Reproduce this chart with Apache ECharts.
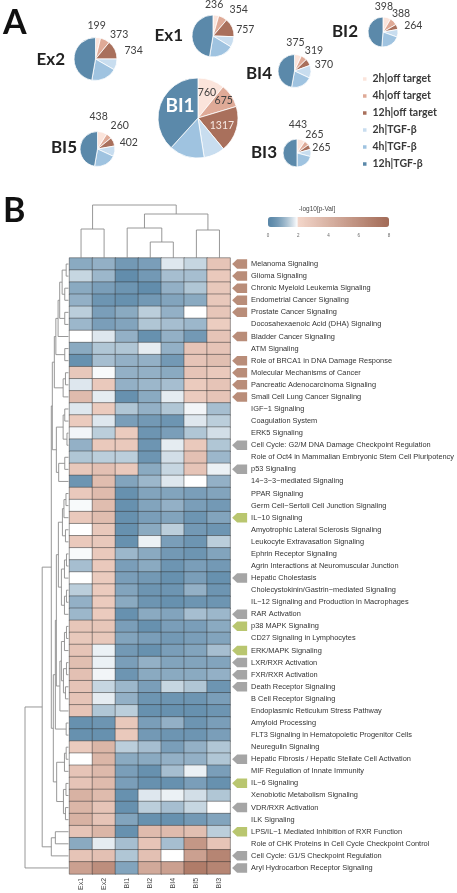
<!DOCTYPE html>
<html><head><meta charset="utf-8">
<script src="https://cdn.jsdelivr.net/npm/echarts@6/dist/echarts.min.js"></script>
<style>html,body{margin:0;padding:0;background:#fff}#c{width:457px;height:893px}</style>
</head><body><div id="c"></div>
<script>
// ---------------- DATA ----------------
const sliceNames = ['2h|off target','4h|off target','12h|off target','2h|TGF-β','4h|TGF-β','12h|TGF-β'];
const pieSamples = ['Ex2','Ex1','BI1','BI2','BI4','BI3','BI5'];
const countsEx2 = [199,373,734,435,1015,2470];
const countsEx1 = [236,354,757,430,1000,2500];
const countsBI1 = [760,675,1317,600,1000,2700];
const countsBI2 = [398,388,264,390,980,2300];
const countsBI4 = [375,319,370,685,1140,2580];
const countsBI3 = [443,265,265,390,975,2340];
const countsBI5 = [438,260,402,480,1030,2340];

const columns = ['Ex1','Ex2','BI1','BI2','BI4','BI5','BI3'];
const pathways = ['Melanoma Signaling','Glioma Signaling','Chronic Myeloid Leukemia Signaling','Endometrial Cancer Signaling','Prostate Cancer Signaling','Docosahexaenoic Acid (DHA) Signaling','Bladder Cancer Signaling','ATM Signaling','Role of BRCA1 in DNA Damage Response','Molecular Mechanisms of Cancer','Pancreatic Adenocarcinoma Signaling','Small Cell Lung Cancer Signaling','IGF\u22121 Signaling','Coagulation System','ERK5 Signaling','Cell Cycle: G2/M DNA Damage Checkpoint Regulation','Role of Oct4 in Mammalian Embryonic Stem Cell Pluripotency','p53 Signaling','14\u22123\u22123\u2212mediated Signaling','PPAR Signaling','Germ Cell\u2212Sertoli Cell Junction Signaling','IL\u221210 Signaling','Amyotrophic Lateral Sclerosis Signaling','Leukocyte Extravasation Signaling','Ephrin Receptor Signaling','Agrin Interactions at Neuromuscular Junction','Hepatic Cholestasis','Cholecystokinin/Gastrin\u2212mediated Signaling','IL\u221212 Signaling and Production in Macrophages','RAR Activation','p38 MAPK Signaling','CD27 Signaling in Lymphocytes','ERK/MAPK Signaling','LXR/RXR Activation','FXR/RXR Activation','Death Receptor Signaling','B Cell Receptor Signaling','Endoplasmic Reticulum Stress Pathway','Amyloid Processing','FLT3 Signaling in Hematopoietic Progenitor Cells','Neuregulin Signaling','Hepatic Fibrosis / Hepatic Stellate Cell Activation','MIF Regulation of Innate Immunity','IL\u22126 Signaling','Xenobiotic Metabolism Signaling','VDR/RXR Activation','ILK Signaling','LPS/IL\u22121 Mediated Inhibition of RXR Function','Role of CHK Proteins in Cell Cycle Checkpoint Control','Cell Cycle: G1/S Checkpoint Regulation','Aryl Hydrocarbon Receptor Signaling'];

const valEx1 = [0.9,1.5,0.9,1.0,1.4,1.1,1.95,0.9,0.4,2.8,1.7,3.5,1.7,2.6,1.85,1.0,1.3,2.8,0.5,2.7,1.9,2.7,1.95,2.7,1.9,1.2,1.95,1.4,1.0,1.1,2.9,2.8,3.0,3.3,3.2,3.0,3.0,3.0,0.4,0.4,2.6,1.95,3.0,3.0,4.0,3.8,4.0,3.0,0.9,3.0,5.0];
const valEx2 = [1.0,1.1,0.7,0.5,0.7,0.7,1.7,1.3,1.2,1.9,2.7,1.75,2.6,1.7,1.4,2.7,1.4,3.2,3.4,3.5,3.4,3.4,2.8,2.8,2.7,2.7,2.6,2.6,2.6,2.6,2.9,2.8,1.8,1.8,1.85,1.5,1.75,1.3,0.5,0.4,3.8,3.8,3.6,3.5,3.5,3.0,3.0,3.8,1.75,3.2,6.0];
const valBI1 = [0.6,0.3,0.5,0.4,0.9,0.8,1.0,1.3,1.0,1.0,1.0,0.4,1.3,0.7,2.6,2.7,1.4,2.7,0.8,0.4,0.4,0.4,0.4,0.4,1.1,0.7,0.7,0.8,0.9,0.4,0.7,0.8,0.6,0.7,0.5,1.1,1.0,1.4,2.8,2.7,1.4,0.9,0.7,0.7,0.4,0.4,0.8,0.4,1.2,1.3,0.8];
const valBI2 = [0.7,0.6,0.3,0.6,1.4,1.3,0.4,1.75,1.0,1.0,1.1,0.9,1.0,0.6,0.5,0.5,0.5,0.9,1.1,0.8,0.8,0.7,0.9,1.8,0.9,0.9,0.6,0.5,0.5,0.9,0.4,0.7,0.4,1.0,0.9,0.7,0.5,0.4,0.7,0.6,1.2,0.9,0.4,0.4,1.7,1.4,0.4,3.5,3.0,3.2,4.5];
const valBI4 = [1.7,1.2,1.0,0.8,1.0,1.2,1.0,1.0,0.6,0.9,1.2,1.75,1.3,0.5,0.7,1.75,1.6,1.5,1.7,0.8,1.0,0.8,1.4,0.7,0.6,0.5,0.4,0.5,0.4,0.8,0.7,0.6,0.7,0.8,0.9,1.5,0.5,0.4,1.0,0.5,0.7,1.0,1.2,0.4,1.8,1.2,0.4,3.5,1.2,1.95,5.0];
const valBI5 = [1.5,1.2,1.3,0.9,1.95,1.1,0.6,3.0,3.0,3.0,2.6,2.6,1.85,1.7,1.3,2.7,3.2,3.0,1.95,0.7,0.7,0.5,0.6,0.5,0.5,0.7,0.7,1.0,0.5,1.2,0.7,0.7,0.8,0.8,0.9,1.3,0.5,0.4,0.5,0.5,1.0,1.0,1.8,0.7,1.6,1.5,0.6,3.3,5.5,5.0,7.0];
const valBI3 = [3.0,2.7,2.8,2.8,2.9,2.5,3.0,3.0,3.3,2.7,3.0,3.0,1.2,1.4,1.6,1.3,1.1,1.8,1.0,0.8,0.6,0.8,0.5,1.4,0.8,0.6,0.4,0.5,0.5,1.1,0.9,0.8,1.2,0.8,1.0,0.5,0.7,0.5,0.7,0.7,1.3,1.3,0.7,0.4,1.3,1.95,0.8,1.4,3.0,6.5,6.5];

// marker type per pathway: o = off-target (brown), g = grey, l = green, '' = none
const markerTypes = ['o','o','o','o','o','','o','','o','o','o','o','','','','g','','g','','','','l','','','','','g','','','g','l','','l','g','g','g','','','','','','g','','l','','g','','l','','g','g'];

const colorbarTicks = [0,2,4,6,8];

// column dendrogram: [left, right, height]
const colTree = [[0,1,29],[[2,[3,4,16],30],[5,6,28],44],53];

// row dendrogram sub-clusters: [left, right, height]
const rowA1 = [[[[0,1,2.3],[2,3,3.7],6.3],[4,5,3.7],8.7],6,10.3];
const rowA = [[rowA1,[7,8,3.7],12.5],[[9,10,3],11,5.3],14];
const rowB = [[[12,13,3.7],[14,15,1.5],5.3],[[16,17,3.7],18,9.7],12];
const rowC1 = [[[19,20,2.5],21,4.5],[22,23,3],6];
const rowC2 = [[[24,25,2],26,4],[[27,28,2],29,4],7];
const rowC3 = [[[[30,31,2],32,4],[[33,34,2],[35,36,3],5],7],37,8.5];
const rowD = [38,39,2.3];
const rowE = [[[40,41,2.3],42,4],[[43,44,2.5],[45,46,3],5],11.7];
const rowZ = [[47,48,13],49,17];
const rowTree = [[[[rowA,rowB,16],[[[[rowC1,rowC2,10],rowC3,12],rowD,13],rowE,15],17],rowZ,26],50,43];

// ---------------- STYLE ----------------
const sliceColors = ['#fbe4db','#dfaa97','#a9705c','#c8ddef','#9fc3e0','#5b89aa'];
const outerLabelAngles = [88,46,12];
const pieLayout = {
  Ex2:{center:[95.5,59],r:21.5,labelDist:[33,34,39]},
  Ex1:{center:[213,36],r:21,labelDist:[31,37,33]},
  BI1:{center:[198,118],r:40,labelDist:[27,31,25],inside:true},
  BI2:{center:[383,32],r:15,labelDist:[25,26,31]},
  BI4:{center:[294.5,71],r:16.5,labelDist:[28,28,30]},
  BI3:{center:[297,153],r:14,labelDist:[28,25,25]},
  BI5:{center:[97.5,149],r:17.5,labelDist:[32,32,32]}
};
const pieCounts = {Ex2:countsEx2,Ex1:countsEx1,BI1:countsBI1,BI2:countsBI2,BI4:countsBI4,BI3:countsBI3,BI5:countsBI5};
const markerColors = {o:'#a87158', g:'#8e8e8e', l:'#a8b84b'};
const fontA = 'Lato, "Open Sans", sans-serif';
const fontB = '"Liberation Sans", Arial, sans-serif';

function mix(a,b,t){return 'rgb('+a.map((x,i)=>Math.round(x+(b[i]-x)*t)).join(',')+')';}
const cBlue=[90,135,168], cWhite=[255,255,255], cPink=[243,214,202], cBrown=[162,106,86];
function scaleColor(v){
  if (v < 1.95) return mix(cBlue,cWhite,Math.pow(v/1.95,1.6));
  if (v < 2) return mix(cWhite,cPink,(v-1.95)/0.05);
  return mix(cPink,cBrown,(v-2)/6);
}
const scaleStops = [];
for (let i=0;i<=160;i++) scaleStops.push(scaleColor(i*0.05));

// ---------------- BUILD ----------------
const heatData = [];
const colVals = [valEx1,valEx2,valBI1,valBI2,valBI4,valBI5,valBI3];
colVals.forEach((arr,ci)=>arr.forEach((v,ri)=>heatData.push([ci,ri,v])));

const markerData = [];
markerTypes.forEach((t,ri)=>{ if(t) markerData.push({value:[columns.length-1,ri],itemStyle:{color:markerColors[t]}}); });

function layoutTree(node,out){
  if (typeof node === 'number') return {pos:node,h:0};
  const a = layoutTree(node[0],out), b = layoutTree(node[1],out);
  out.push([a.pos,a.h,b.pos,b.h,node[2]]);
  return {pos:(a.pos+b.pos)/2,h:node[2]};
}
const rowLinks = []; layoutTree(rowTree,rowLinks);
const colLinks = []; layoutTree(colTree,colLinks);

const series = [];
pieSamples.forEach(name=>{
  const cfg = pieLayout[name];
  series.push({
    type:'pie', name:name, center:cfg.center, radius:cfg.r, startAngle:90, clockwise:true,
    silent:true, animation:false,
    itemStyle:{borderColor:'#fff',borderWidth:0.8},
    label:{show:true, position:'inside', fontFamily:fontA, fontSize: 10.5, color:'#404040', formatter:'{c}'},
    labelLine:{show:false},
    labelLayout:function(p){
      const d = cfg.labelDist[p.dataIndex] || cfg.labelDist[0];
      let ux, uy;
      if (cfg.inside) {
        const r=p.labelRect; const vx=r.x+r.width/2-cfg.center[0], vy=r.y+r.height/2-cfg.center[1];
        const len=Math.hypot(vx,vy)||1; ux=vx/len; uy=vy/len;
      } else {
        const a = outerLabelAngles[p.dataIndex]*Math.PI/180; ux=Math.cos(a); uy=-Math.sin(a);
      }
      return {x:cfg.center[0]+ux*d, y:cfg.center[1]+uy*d, align:'center', verticalAlign:'middle'};
    },
    data: pieCounts[name].map((v,i)=>({name:sliceNames[i], value:v, itemStyle:{color:sliceColors[i]},
      label:{show:i<3, color:(cfg.inside && i===2)?'#f6e9e3':'#404040'}}))
  });
});
series.push({type:'heatmap', xAxisIndex:0, yAxisIndex:0, data:heatData,
  itemStyle:{borderColor:'rgba(50,50,50,0.8)',borderWidth:0.6}, silent:true});
series.push({type:'scatter', xAxisIndex:0, yAxisIndex:0, data:markerData, clip:false, silent:true,
  symbol:'path://M0,5 L5,0 L15,0 L15,10 L5,10 Z', symbolSize:[15,9.5], symbolKeepAspect:false,
  symbolOffset:[21,0]});
function dendroItem(horizontalHeight){
  return function(params,api){
    const P = (h,pos)=> horizontalHeight ? api.coord([h,pos]) : api.coord([pos,h]);
    const pts=[P(api.value(1),api.value(0)),P(api.value(4),api.value(0)),P(api.value(4),api.value(2)),P(api.value(3),api.value(2))];
    return {type:'polyline', shape:{points:pts}, style:{stroke:'#8c8c8c', lineWidth:0.9, fill:null}};
  };
}
series.push({type:'custom', xAxisIndex:1, yAxisIndex:1, data:rowLinks, renderItem:dendroItem(true), silent:true, clip:false});
series.push({type:'custom', xAxisIndex:2, yAxisIndex:2, data:colLinks, renderItem:dendroItem(false), silent:true, clip:false});

const heatLeft=69.5, heatTop=258, heatW=161.5, heatH=616;
const option = {
  animation:false,
  textStyle:{fontFamily:fontB},
  grid:[
    {left:heatLeft, top:heatTop, width:heatW, height:heatH},
    {left:25, top:heatTop, width:43.5, height:heatH},
    {left:heatLeft, top:205, width:heatW, height:53},
    {left:268, top:228, width:121, height:1}
  ],
  xAxis:[
    {type:'category', gridIndex:0, data:columns, position:'bottom', axisLine:{show:false}, axisTick:{show:false},
      axisLabel:{rotate:90, fontSize:7, color:'#444', margin:4}},
    {type:'value', gridIndex:1, min:0, max:43, inverse:true, show:false},
    {type:'value', gridIndex:2, min:-0.5, max:6.5, show:false},
    {type:'value', gridIndex:3, min:0, max:8, interval:2, axisLine:{show:false}, axisTick:{show:false}, splitLine:{show:false},
      axisLabel:{fontSize:4.5, color:'#666', margin:4}}
  ],
  yAxis:[
    {type:'category', gridIndex:0, data:pathways, inverse:true, position:'right', axisLine:{show:false}, axisTick:{show:false},
      axisLabel:{fontSize:7.4, color:'#333', margin:21, align:'left'}},
    {type:'value', gridIndex:1, min:-0.5, max:50.5, inverse:true, show:false},
    {type:'value', gridIndex:2, min:0, max:53, show:false},
    {type:'value', gridIndex:3, show:false}
  ],
  visualMap:{type:'continuous', seriesIndex:pieSamples.length, min:0, max:8, orient:'horizontal', left:268, top:217,
    itemWidth:10, itemHeight:121, padding:0, text:null, calculable:false, inRange:{color:scaleStops}},
  legend:{data:sliceNames, orient:'vertical', left:361, top:73, itemWidth:5.5, itemHeight:5.5, itemGap:5, icon:'rect',
    selectedMode:false, padding:0, textStyle:{fontFamily:fontA, fontWeight:'bold', fontSize:10.5, color:'#3a3a3a', lineHeight:12}},
  graphic:[
    {type:'text', left:3, top:6, style:{text:'A', font:'bold 34px '+fontA, fill:'#111'}},
    {type:'text', left:3, top:194, style:{text:'B', font:'bold 34px '+fontA, fill:'#111'}},
    {type:'text', x:65, y:60, style:{text:'Ex2', font:'bold 17px '+fontA, fill:'#222', align:'right', verticalAlign:'middle'}},
    {type:'text', x:183, y:36, style:{text:'Ex1', font:'bold 17px '+fontA, fill:'#222', align:'right', verticalAlign:'middle'}},
    {type:'text', x:358, y:32, style:{text:'BI2', font:'bold 17px '+fontA, fill:'#222', align:'right', verticalAlign:'middle'}},
    {type:'text', x:272, y:74, style:{text:'BI4', font:'bold 17px '+fontA, fill:'#222', align:'right', verticalAlign:'middle'}},
    {type:'text', x:277, y:153, style:{text:'BI3', font:'bold 17px '+fontA, fill:'#222', align:'right', verticalAlign:'middle'}},
    {type:'text', x:77, y:148, style:{text:'BI5', font:'bold 17px '+fontA, fill:'#222', align:'right', verticalAlign:'middle'}},
    {type:'text', x:180, y:106, z:100, style:{text:'BI1', font:'bold 19px '+fontA, fill:'#fff', align:'center', verticalAlign:'middle'}},
    {type:'text', x:317, y:209, style:{text:'-log10[p-Val]', font:'6.5px '+fontB, fill:'#444', align:'center', verticalAlign:'middle'}}
  ],
  series:series
};
const chart = echarts.init(document.getElementById('c'));
chart.setOption(option);
</script></body></html>
